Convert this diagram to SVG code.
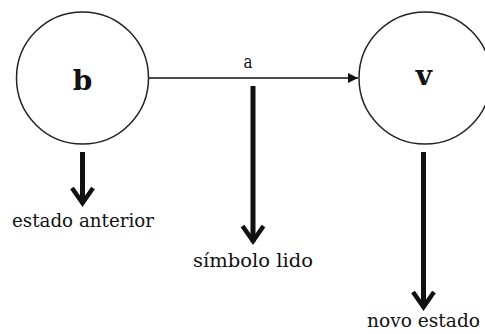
<svg xmlns="http://www.w3.org/2000/svg" width="485" height="334" viewBox="0 0 485 334">
<style>
.node{fill:#fff;stroke:#222;stroke-width:1.5}
.sym{font-family:"DejaVu Serif","Liberation Serif",serif;font-weight:bold;font-size:28px;fill:#111;text-anchor:middle}
.lbl{font-family:"DejaVu Serif","Liberation Serif",serif;font-size:19px;fill:#111}
.shaft{stroke:#111;stroke-width:5;fill:none}
.head{stroke:#111;stroke-width:4.5;fill:none;stroke-linejoin:miter}
</style>
<defs>
<marker id="tri" viewBox="0 0 10 10" refX="10" refY="5" markerWidth="10" markerHeight="10" markerUnits="userSpaceOnUse" orient="auto">
<path d="M0,0 L10,5 L0,10 z" fill="#111"/>
</marker>
</defs>
<rect width="485" height="334" fill="#fff"/>
<g id="node-b">
<circle class="node" cx="82.5" cy="78" r="66"/>
<text class="sym" x="82.5" y="90">b</text>
</g>
<g id="node-v">
<circle class="node" cx="425" cy="78" r="66"/>
<text class="sym" x="424" y="85">v</text>
</g>
<g id="connectors">
<line x1="148.5" y1="78" x2="358" y2="78" stroke="#111" stroke-width="1.3" marker-end="url(#tri)"/>
<text class="lbl" x="243.5" y="68" textLength="9" lengthAdjust="spacingAndGlyphs">a</text>
<line class="shaft" x1="82.5" y1="152" x2="82.5" y2="204"/>
<polyline class="head" points="72,188 82.5,203 93,188"/>
<line class="shaft" x1="253" y1="86" x2="253" y2="242"/>
<polyline class="head" points="242.5,226 253,241 263.5,226"/>
<line class="shaft" x1="423.5" y1="152" x2="423.5" y2="308"/>
<polyline class="head" points="413,292 423.5,307 434,292"/>
</g>
<g id="labels">
<text class="lbl" x="12" y="227" textLength="142" lengthAdjust="spacingAndGlyphs">estado anterior</text>
<text class="lbl" x="193" y="267" textLength="120" lengthAdjust="spacingAndGlyphs">símbolo lido</text>
<text class="lbl" x="367" y="327" textLength="113" lengthAdjust="spacingAndGlyphs">novo estado</text>
</g>
</svg>
